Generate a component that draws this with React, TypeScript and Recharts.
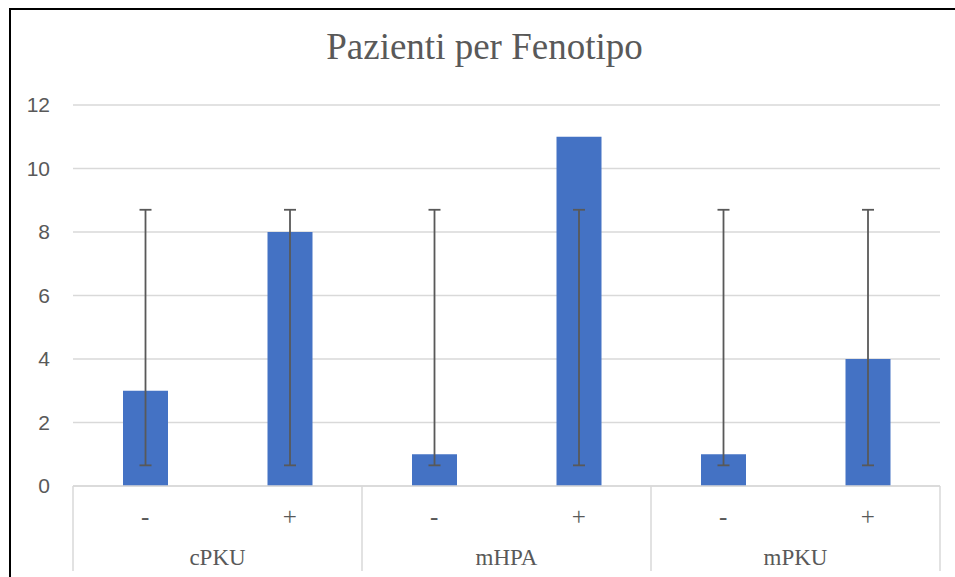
import { BarChart, Bar, XAxis, YAxis, CartesianGrid, ErrorBar } from 'recharts'

const groups = ['cPKU', 'cPKU', 'mHPA', 'mHPA', 'mPKU', 'mPKU']
const signs = ['-', '+', '-', '+', '-', '+']
const values = [3, 8, 1, 11, 1, 4]
// error bar ends (same for every bar)
const errLow = [0.65, 0.65, 0.65, 0.65, 0.65, 0.65]
const errHigh = [8.7, 8.7, 8.7, 8.7, 8.7, 8.7]
const yTicks = [0, 2, 4, 6, 8, 10, 12]

const data = signs.map((s, i) => ({
  id: groups[i] + s,
  sign: s,
  group: groups[i],
  value: values[i],
  err: [values[i] - errLow[i], errHigh[i] - values[i]],
}))

const W = 955
const H = 577
const LEFT = 73
const RIGHT = 15
const BAND = (W - LEFT - RIGHT) / data.length
const GRAY = '#595959'
const LINE = '#d9d9d9'
const SERIF = '"Liberation Serif", "Times New Roman", serif'

function CategoryTick({ x, y, payload, index }: any) {
  const d = data[index ?? payload.index]
  const first = index % 2 === 0
  const last = index === data.length - 1
  return (
    <g>
      <text x={x} y={y + 39} textAnchor="middle" fill={GRAY} fontSize={25} fontFamily={SERIF}>
        {d.sign}
      </text>
      {first && (
        <>
          <line x1={x - BAND / 2} x2={x - BAND / 2} y1={y} y2={y + 85} stroke={LINE} strokeWidth={1.5} />
          <text x={x + BAND / 2} y={y + 79} textAnchor="middle" fill={GRAY} fontSize={23} fontFamily={SERIF}>
            {d.group}
          </text>
        </>
      )}
      {last && (
        <line x1={x + BAND / 2} x2={x + BAND / 2} y1={y} y2={y + 85} stroke={LINE} strokeWidth={1.5} />
      )}
    </g>
  )
}

export default function App() {
  return (
    <div style={{ position: 'absolute', left: 0, top: 0, width: W, height: H, overflow: 'hidden', background: '#fff' }}>
      <div
        style={{
          position: 'absolute',
          left: 9,
          top: 8,
          width: W + 20,
          height: H + 20,
          borderLeft: '2px solid #000',
          borderTop: '2px solid #000',
        }}
      />
      <svg width={W} height={H} style={{ position: 'absolute', left: 0, top: 0 }}>
        <text x={484.5} y={59} textAnchor="middle" fill={GRAY} fontSize={37} fontFamily={SERIF}>
          Pazienti per Fenotipo
        </text>
      </svg>
      <div style={{ position: 'absolute', left: 0, top: 0 }}>
        <BarChart
          width={W}
          height={H}
          data={data}
          margin={{ top: 105, right: RIGHT, left: 0, bottom: 0 }}
          barCategoryGap={0}
        >
          <CartesianGrid vertical={false} stroke={LINE} strokeWidth={1.5} />
          <XAxis
            dataKey="id"
            height={H - 486}
            interval={0}
            tickLine={false}
            tickSize={0}
            tickMargin={0}
            axisLine={{ stroke: LINE, strokeWidth: 1.5 }}
            tick={(p: any) => <CategoryTick {...p} />}
          />
          <YAxis
            width={LEFT}
            domain={[0, 12]}
            ticks={yTicks}
            axisLine={false}
            tickLine={false}
            tickSize={0}
            tickMargin={23}
            tick={{ fill: GRAY, fontSize: 21, fontFamily: '"Liberation Sans", Arial, sans-serif' }}
          />
          <Bar dataKey="value" fill="#4472c4" barSize={45} isAnimationActive={false}>
            <ErrorBar dataKey="err" width={6} stroke={GRAY} strokeWidth={1.8} direction="y" />
          </Bar>
        </BarChart>
      </div>
    </div>
  )
}
